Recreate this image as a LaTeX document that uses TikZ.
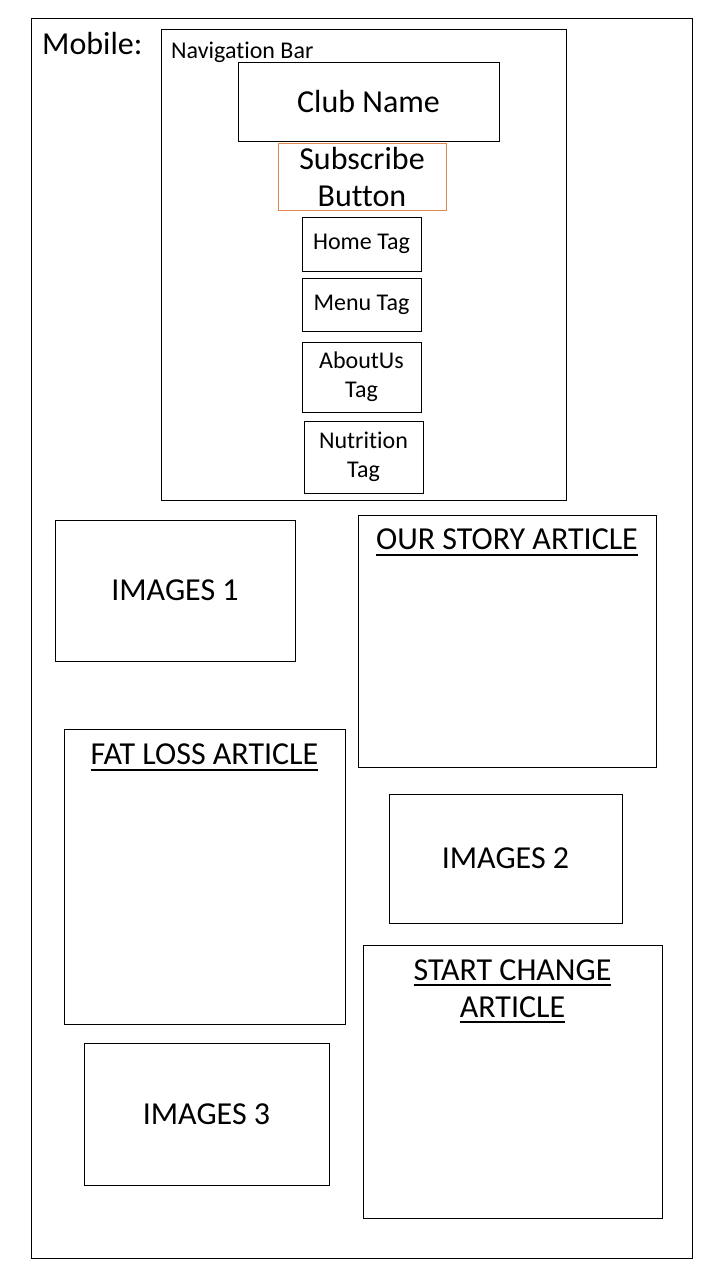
\documentclass[tikz,border=0pt]{standalone}
\usepackage{fontspec}
\setmainfont[RawFeature={-liga;-clig;-calt;-dlig;-rlig}]{Carlito}
\usepackage{tikz}
\usetikzlibrary{positioning}
\definecolor{btnorange}{RGB}{222,135,82}
\newcommand{\thickul}[1]{\setbox0\hbox{#1}\rlap{\vrule width\wd0 height -4pt depth 6pt}\box0}
\tikzstyle{frame} = [draw, line width=1pt, inner sep=0pt]
\tikzstyle{big} = [font=\fontsize{32}{37}\selectfont, align=center]
\tikzstyle{small} = [font=\fontsize{24}{29}\selectfont, align=center]

\begin{document}
\begin{tikzpicture} [x=1pt, y=-1pt]

        \useasboundingbox (0,0) rectangle (720,1280);

        \node[frame, minimum width=661pt, minimum height=1240pt] (mobile) at (361.5,638) {};
        \node[big, anchor=base west, inner sep=0pt] (mobileLabel) at (42,54) {Mobile:};

        % navigation bar
        \node[frame, minimum width=405pt, minimum height=471pt] (nav) at (363.5,264.5) {};
        \node[small, anchor=base west, inner sep=0pt] (navLabel) at (171,58) {Navigation Bar};
        \node[frame, big, minimum width=261pt, minimum height=79pt] (club) at (368.5,101.5) {Club Name};
        \node[frame, big, draw=btnorange, minimum width=168pt, minimum height=67pt] (subscribe) at (362,177) {Subscribe\\Button};
        \node[frame, small, minimum width=119pt, minimum height=54pt] (home) at (361.5,244) {Home Tag};
        \node[frame, small, minimum width=119pt, minimum height=53pt] (menu) at (361.5,304.5) {Menu Tag};
        \node[frame, small, minimum width=119pt, minimum height=70pt] (about) at (361.5,377) {AboutUs\\Tag};
        \node[frame, small, minimum width=119pt, minimum height=72pt] (nutrition) at (363.5,457) {Nutrition\\Tag};

        % page content
        \node[frame, big, minimum width=240pt, minimum height=141pt] (images1) at (175,590.5) {IMAGES 1};
        \node[frame, minimum width=298pt, minimum height=252pt] (story) at (507,641) {};
        \node[big, anchor=base, inner sep=0pt] (storyTitle) at ([yshift=-35pt]story.north) {\thickul{OUR STORY ARTICLE}};
        \node[frame, minimum width=281pt, minimum height=295pt] (fatloss) at (204.5,876.5) {};
        \node[big, anchor=base, inner sep=0pt] (fatlossTitle) at ([yshift=-36pt]fatloss.north) {\thickul{FAT LOSS ARTICLE}};
        \node[frame, big, minimum width=233pt, minimum height=129pt] (images2) at (505.5,858.5) {IMAGES 2};
        \node[frame, minimum width=299pt, minimum height=273pt] (change) at (512.5,1081.5) {};
        \node[big, anchor=north, inner sep=0pt] (changeTitle) at ([yshift=-15pt]change.north) {\thickul{START CHANGE}\\\thickul{ARTICLE}};
        \node[frame, big, minimum width=245pt, minimum height=142pt] (images3) at (206.5,1114) {IMAGES 3};

\end{tikzpicture}
\end{document}
